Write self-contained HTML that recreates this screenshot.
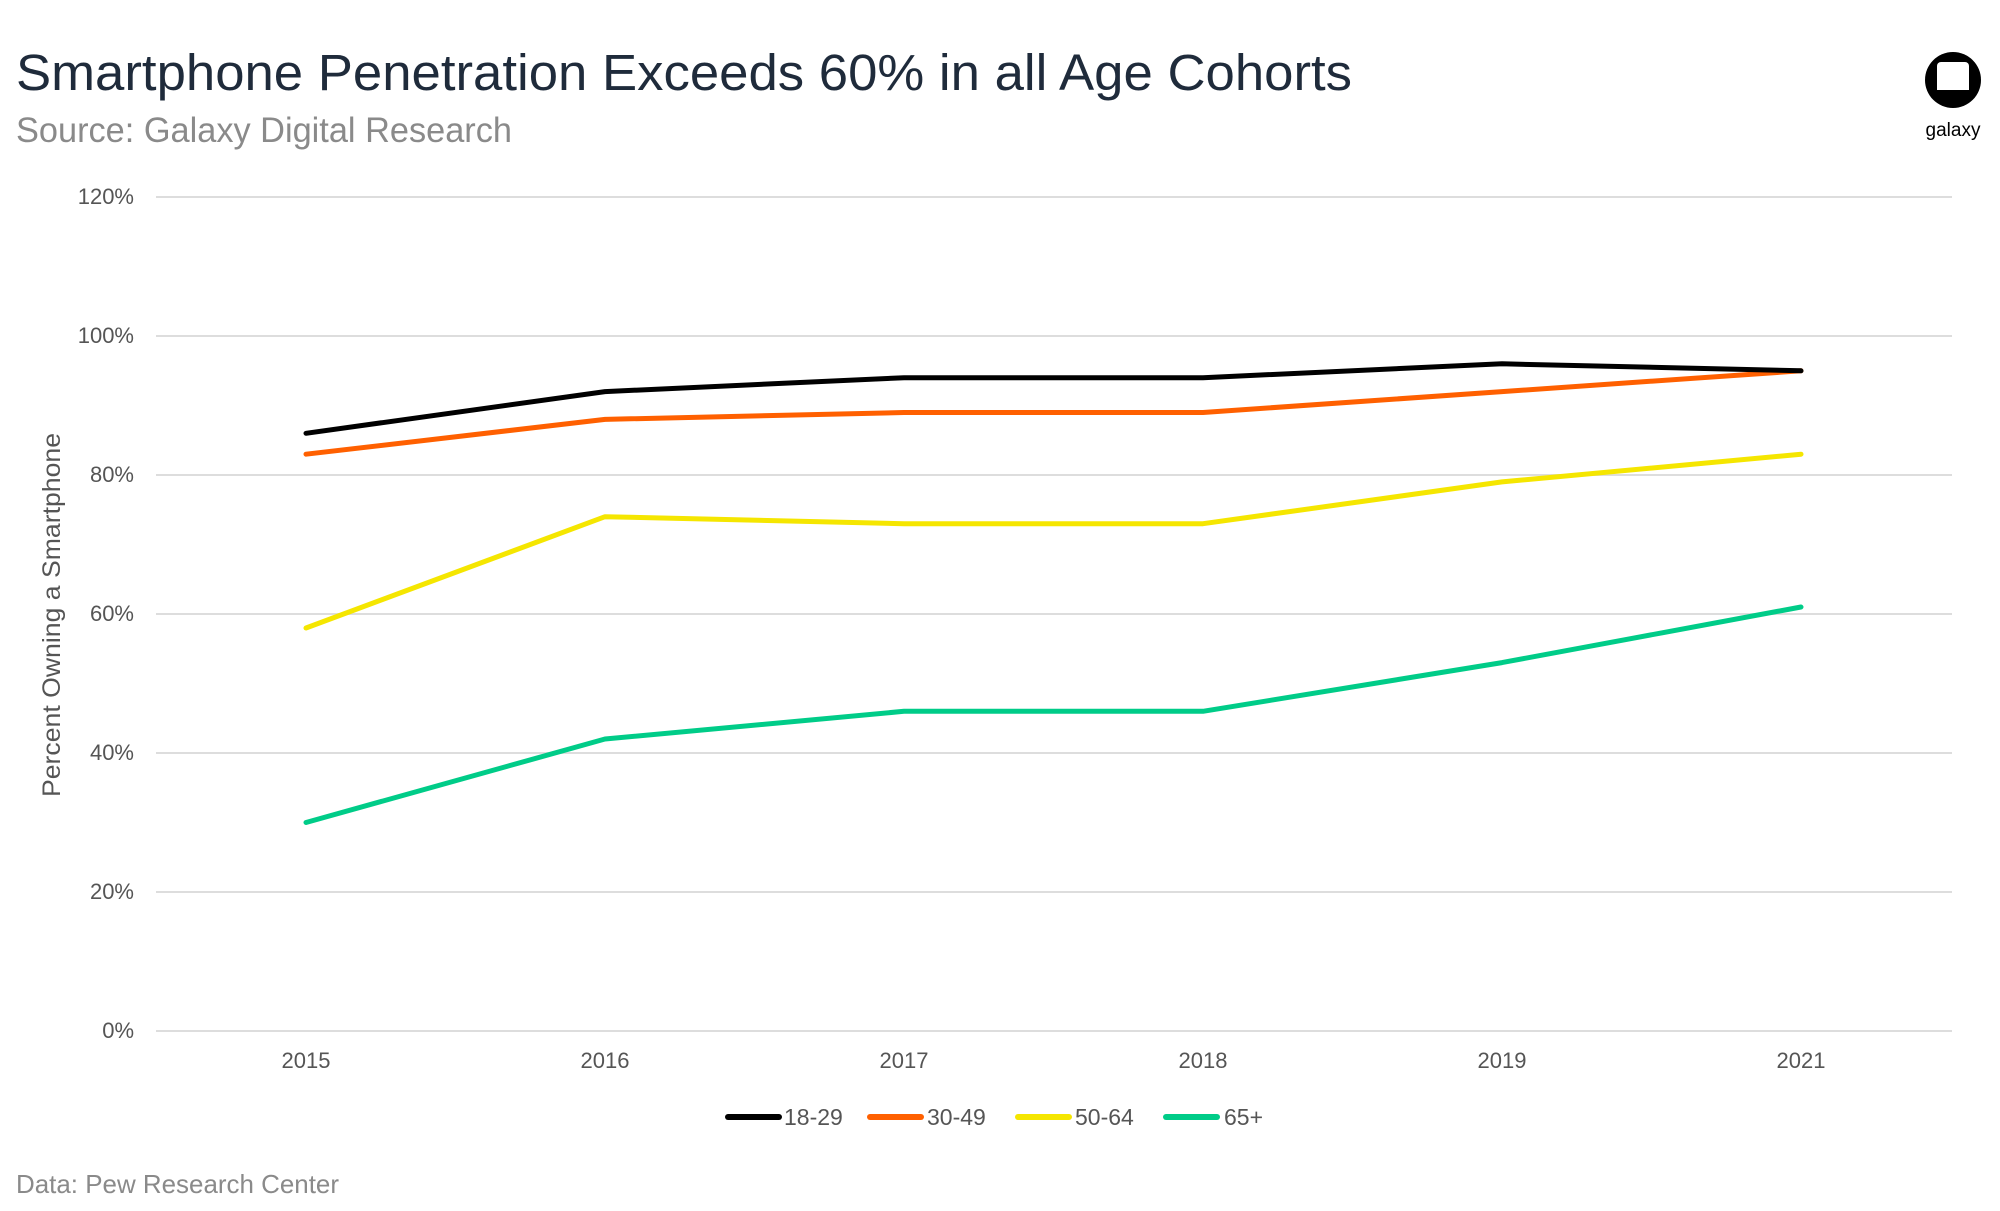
<!DOCTYPE html>
<html><head><meta charset="utf-8"><style>
body{margin:0;background:#fff;}
svg{display:block;font-family:"Liberation Sans",sans-serif;}
</style></head><body>
<svg width="2000" height="1211" viewBox="0 0 2000 1211" xmlns="http://www.w3.org/2000/svg">
<rect width="2000" height="1211" fill="#fff"/>
<text x="16" y="90" font-size="51" fill="#1f2b3b" textLength="1336" lengthAdjust="spacingAndGlyphs">Smartphone Penetration Exceeds 60% in all Age Cohorts</text>
<text x="16" y="142" font-size="35" fill="#8a8a8a" textLength="496" lengthAdjust="spacingAndGlyphs">Source: Galaxy Digital Research</text>
<circle cx="1953" cy="80" r="28" fill="#000"/>
<rect x="1937" y="62" width="32" height="32" rx="4" fill="#fff"/>
<rect x="1937" y="90" width="32" height="8" fill="#000"/>
<text x="1953" y="136" font-size="19" fill="#000" text-anchor="middle">galaxy</text>
<g stroke="#dddddd" stroke-width="2">
<line x1="156" x2="1952" y1="197" y2="197"/>
<line x1="156" x2="1952" y1="336" y2="336"/>
<line x1="156" x2="1952" y1="475" y2="475"/>
<line x1="156" x2="1952" y1="614" y2="614"/>
<line x1="156" x2="1952" y1="753" y2="753"/>
<line x1="156" x2="1952" y1="892" y2="892"/>
<line x1="156" x2="1952" y1="1031" y2="1031"/>
</g>
<g font-size="22" fill="#555" text-anchor="end">
<text x="134" y="204">120%</text>
<text x="134" y="343">100%</text>
<text x="134" y="482">80%</text>
<text x="134" y="621">60%</text>
<text x="134" y="760">40%</text>
<text x="134" y="899">20%</text>
<text x="134" y="1038">0%</text>
</g>
<g font-size="22" fill="#555" text-anchor="middle">
<text x="306" y="1068">2015</text>
<text x="605" y="1068">2016</text>
<text x="904" y="1068">2017</text>
<text x="1203" y="1068">2018</text>
<text x="1502" y="1068">2019</text>
<text x="1801" y="1068">2021</text>
</g>
<text transform="translate(60,615) rotate(-90)" font-size="25" fill="#555" text-anchor="middle" textLength="364" lengthAdjust="spacingAndGlyphs">Percent Owning a Smartphone</text>
<g fill="none" stroke-width="5" stroke-linejoin="round" stroke-linecap="round">
<polyline stroke="#00cc88" points="306,822.5 605,739 904,711.3 1203,711.3 1502,662.6 1801,607"/>
<polyline stroke="#f5e600" points="306,628 605,516.7 904,523.7 1203,523.7 1502,481.9 1801,454.2"/>
<polyline stroke="#ff6000" points="306,454.2 605,419.4 904,412.5 1203,412.5 1502,391.6 1801,370.8"/>
<polyline stroke="#000" points="306,433.3 605,391.6 904,377.7 1203,377.7 1502,363.8 1801,370.8"/>
</g>
<g stroke-width="6" stroke-linecap="round">
<line x1="728" x2="779" y1="1117" y2="1117" stroke="#000"/>
<line x1="870" x2="921" y1="1117" y2="1117" stroke="#ff6000"/>
<line x1="1018" x2="1069" y1="1117" y2="1117" stroke="#f5e600"/>
<line x1="1166" x2="1217" y1="1117" y2="1117" stroke="#00cc88"/>
</g>
<g font-size="23" fill="#555">
<text x="784" y="1125">18-29</text>
<text x="927" y="1125">30-49</text>
<text x="1075" y="1125">50-64</text>
<text x="1224" y="1125">65+</text>
</g>
<text x="16" y="1193" font-size="26" fill="#8a8a8a" textLength="323" lengthAdjust="spacingAndGlyphs">Data: Pew Research Center</text>
</svg>
</body></html>
